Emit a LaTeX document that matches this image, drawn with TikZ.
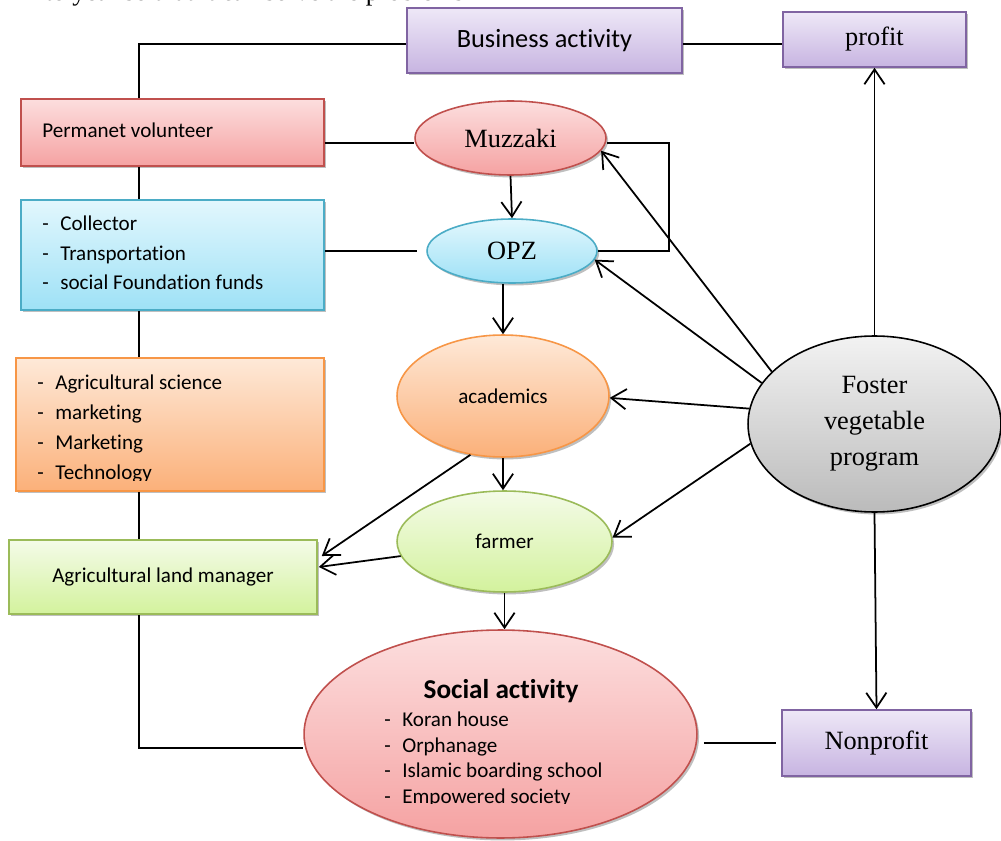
\documentclass[tikz,border=0pt]{standalone}
\usepackage{fontspec}
\setmainfont{Carlito}[Ligatures=NoCommon]
\newfontfamily\tms{Liberation Serif}
\usetikzlibrary{shapes.geometric,arrows.meta,shadows}
\definecolor{purTop}{HTML}{EEE8F7}
\definecolor{purBot}{HTML}{C7B4E1}
\definecolor{purLine}{HTML}{8064A2}
\definecolor{redTop}{HTML}{FCDEDE}
\definecolor{redBot}{HTML}{F5A2A2}
\definecolor{redLine}{HTML}{C0504D}
\definecolor{bluTop}{HTML}{E2F7FD}
\definecolor{bluBot}{HTML}{9EE1F6}
\definecolor{bluLine}{HTML}{4BACC6}
\definecolor{orgTop}{HTML}{FEE9D8}
\definecolor{orgBot}{HTML}{FBB079}
\definecolor{orgLine}{HTML}{F79646}
\definecolor{grnTop}{HTML}{F4FBE8}
\definecolor{grnBot}{HTML}{D3F29D}
\definecolor{grnLine}{HTML}{9BBB59}
\definecolor{gryTop}{HTML}{F2F2F2}
\definecolor{gryBot}{HTML}{BBBBBB}
\tikzset{
  shad/.style={drop shadow={shadow xshift=1.2pt,shadow yshift=-1.4pt,opacity=.25,fill=black}},
  boxbase/.style={rectangle,inner sep=0pt,line width=0.9pt,shad},
  ellbase/.style={ellipse,inner sep=0pt,line width=0.9pt,shad},
  purfill/.style={top color=purTop,bottom color=purBot,draw=purLine},
  redfill/.style={top color=redTop,bottom color=redBot,draw=redLine},
  blufill/.style={top color=bluTop,bottom color=bluBot,draw=bluLine},
  orgfill/.style={top color=orgTop,bottom color=orgBot,draw=orgLine},
  grnfill/.style={top color=grnTop,bottom color=grnBot,draw=grnLine},
  gryfill/.style={top color=gryTop,bottom color=gryBot,draw=black},
  conn/.style={line width=1pt,black},
  arr/.style={conn,-{Straight Barb[length=8.5pt,width=11.5pt,line width=1pt]}},
  serif15/.style={font=\tms\fontsize{15}{20.4}\selectfont},
  cal12/.style={font=\fontsize{12}{14}\selectfont},
  item/.style={anchor=base west,inner sep=0pt,cal12},
}
\begin{document}
\begin{tikzpicture}[x=0.02cm,y=-0.02cm]
\useasboundingbox (0,0) rectangle (1001,841);
\fill[white] (0,0) rectangle (1001,841);
% cut-off line of text above the diagram (as in the source page)
\node[anchor=base west,inner sep=0pt,serif15] (toptext) at (45,1) {to year so that it can solve the problems};

% boxes
\node[boxbase,purfill,minimum width=5.5cm,minimum height=1.3cm,font=\fontsize{15}{18}\selectfont] (business) at (544.5,40.5) {Business activity};
\node[boxbase,purfill,minimum width=3.66cm,minimum height=1.1cm,serif15] (profit) at (874.5,39.5) {profit};
\node[boxbase,redfill,minimum width=6.06cm,minimum height=1.34cm] (permanet) at (172.5,132.5) {};
\node[boxbase,blufill,minimum width=6.06cm,minimum height=2.2cm] (blue) at (172.5,255) {};
\node[boxbase,orgfill,minimum width=6.16cm,minimum height=2.66cm] (orange) at (170,424.5) {};
\node[boxbase,grnfill,minimum width=6.16cm,minimum height=1.48cm,cal12] (green) at (163,577) {Agricultural land manager};
\node[boxbase,purfill,minimum width=3.78cm,minimum height=1.32cm,serif15] (nonprofit) at (876.5,743) {Nonprofit};

% ellipses
\node[ellbase,redfill,minimum width=3.82cm,minimum height=1.48cm,serif15] (muzzaki) at (510.5,138) {Muzzaki};
\node[ellbase,blufill,minimum width=3.4cm,minimum height=1.28cm,serif15] (opz) at (512,251) {OPZ};
\node[ellbase,orgfill,minimum width=4.24cm,minimum height=2.44cm,cal12] (academics) at (503,396) {academics};
\node[ellbase,grnfill,minimum width=4.3cm,minimum height=2.02cm,cal12] (farmer) at (504.5,541.5) {farmer};
\node[ellbase,redfill,minimum width=7.86cm,minimum height=4.16cm] (social) at (500.5,734) {};
\node[ellbase,gryfill,minimum width=5.06cm,minimum height=3.52cm,serif15,align=center] (foster) at (874.5,424) {Foster\\vegetable\\program};

% texts inside boxes
\node[item] (pvtext) at (42,138) {Permanet volunteer};
\node[item] (b1d) at (42,231) {-};
\node[item] (b1) at (60,231) {Collector};
\node[item] (b2d) at (42,261) {-};
\node[item] (b2) at (60,261) {Transportation};
\node[item] (b3d) at (42,290) {-};
\node[item] (b3) at (60,290) {social Foundation funds};
\begin{scope}
\clip (0,340) rectangle (330,480);
\node[item] (o1d) at (37,389) {-};
\node[item] (o1) at (55,389) {Agricultural science};
\node[item] (o2d) at (37,419) {-};
\node[item] (o2) at (55,419) {marketing};
\node[item] (o3d) at (37,449) {-};
\node[item] (o3) at (55,449) {Marketing};
\node[item] (o4d) at (37,479) {-};
\node[item] (o4) at (55,479) {Technology};
\end{scope}
\node[anchor=base,inner sep=0pt,font=\bfseries\fontsize{15.5}{18}\selectfont] (stitle) at (501,698) {Social activity};
\begin{scope}
\clip (300,600) rectangle (700,803);
\node[item] (s1d) at (384,726) {-};
\node[item] (s1) at (402,726) {Koran house};
\node[item] (s2d) at (384,752) {-};
\node[item] (s2) at (402,752) {Orphanage};
\node[item] (s3d) at (384,777) {-};
\node[item] (s3) at (402,777) {Islamic boarding school};
\node[item] (s4d) at (384,803) {-};
\node[item] (s4) at (402,803) {Empowered society};
\end{scope}

% helper coordinates
\coordinate (lx) at (139,0);
\coordinate (bx) at (669,0);

% plain connectors
\draw[conn] ([yshift=-0.07cm]business.east) -- ([yshift=-0.07cm]business.east -| profit.west);
\draw[conn] ([yshift=-0.07cm]business.west) -| (lx |- permanet.north);
\draw[conn] ([yshift=-0.1cm]permanet.east |- muzzaki.west) -- ([yshift=-0.1cm]muzzaki.west);
\draw[conn] (lx |- permanet.south) -- (lx |- blue.north);
\draw[conn] (blue.east |- opz.west) -- ([xshift=-0.18cm]opz.west);
\draw[conn] (lx |- blue.south) -- (lx |- orange.north);
\draw[conn] (lx |- orange.south) -- (lx |- green.north);
\draw[conn] (lx |- green.south) |- ([yshift=-0.28cm]social.west);
\draw[conn] ([xshift=0.12cm]social.east |- nonprofit.west) -- ([xshift=-0.1cm]nonprofit.west);
\draw[conn] ([yshift=-0.1cm]muzzaki.east) -- ([yshift=-0.1cm]bx |- muzzaki.east) -- (bx |- opz.east) -- (opz.east);

% arrows
\draw[arr] (muzzaki.south) -- (opz.north);
\draw[arr] (academics.north |- opz.south) -- (academics.north);
\draw[arr] (academics.south) -- (academics.south |- farmer.north);
\draw[arr] (farmer.south) -- (farmer.south |- social.north);
\draw[arr] (academics.-119) -- ([xshift=0.08cm,yshift=0.42cm]green.east);
\draw[arr] (farmer.-172) -- ([xshift=0.02cm,yshift=0.2cm]green.east);
\draw[arr] (foster.153) -- (muzzaki.-8);
\draw[arr] (foster.160) -- (opz.-6);
\draw[arr] (foster.173) -- (academics.-1);
\draw[arr] (foster.-171) -- (farmer.2);
\draw[arr] (foster.north) -- (profit.south);
\draw[arr] (foster.south) -- (nonprofit.north);
\end{tikzpicture}
\end{document}
